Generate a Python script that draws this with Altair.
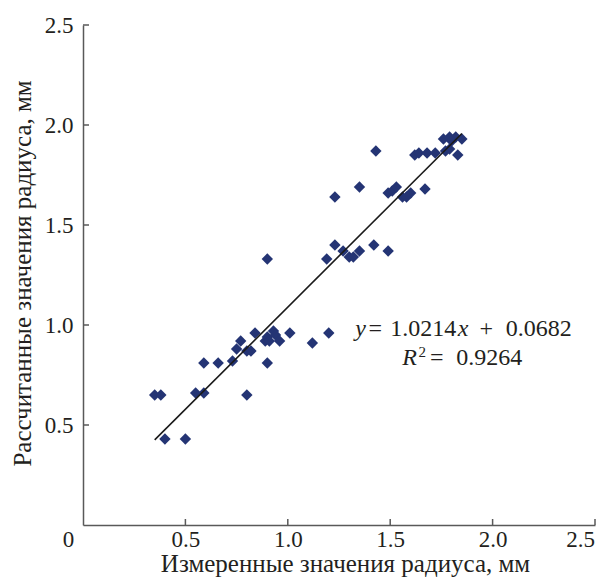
import altair as alt
import pandas as pd

x_meas = [0.35, 0.38, 0.40, 0.50, 0.55, 0.59, 0.59, 0.66, 0.73, 0.75,
          0.77, 0.80, 0.80, 0.82, 0.84, 0.89, 0.90, 0.90, 0.91, 0.93,
          0.94, 0.96, 1.01, 1.12, 1.20, 0.90,
          1.19, 1.23, 1.27, 1.30, 1.32, 1.35, 1.42, 1.49,
          1.23, 1.35, 1.43, 1.49, 1.51, 1.53, 1.56, 1.58, 1.60, 1.67,
          1.62, 1.64, 1.68, 1.72, 1.77, 1.79, 1.83, 1.76, 1.79, 1.82, 1.85, 1.80]
# Calculated values (mm)
y_calc = [0.65, 0.65, 0.43, 0.43, 0.66, 0.66, 0.81, 0.81, 0.82, 0.88,
          0.92, 0.87, 0.65, 0.87, 0.96, 0.92, 0.94, 0.81, 0.92, 0.97,
          0.95, 0.92, 0.96, 0.91, 0.96, 1.33,
          1.33, 1.40, 1.37, 1.34, 1.34, 1.37, 1.40, 1.37,
          1.64, 1.69, 1.87, 1.66, 1.67, 1.69, 1.64, 1.64, 1.66, 1.68,
          1.85, 1.86, 1.86, 1.86, 1.87, 1.88, 1.85, 1.93, 1.94, 1.94, 1.93, 1.92]

slope = 1.0214
intercept = 0.0682

x_ticks = [0.5, 1.0, 1.5, 2.0, 2.5]
y_ticks = [0.5, 1.0, 1.5, 2.0, 2.5]
x_label_values = [0, 0.5, 1.0, 1.5, 2.0, 2.5]

FONT = "Liberation Serif"
POINT_COLOR = "#243474"
TEXT_COLOR = "#231f20"

pts = pd.DataFrame({"x": x_meas, "y": y_calc})
xmin, xmax = min(x_meas), max(x_meas)
fit = pd.DataFrame({"x": [xmin, xmax],
                    "y": [slope * xmin + intercept, slope * xmax + intercept]})
xt = pd.DataFrame({"x": x_ticks})
yt = pd.DataFrame({"y": y_ticks})

xscale = alt.Scale(domain=[0, 2.5], nice=False, zero=False)
yscale = alt.Scale(domain=[0, 2.5], nice=False, zero=False)

xaxis = alt.Axis(
    title="Измеренные значения радиуса, мм",
    values=x_label_values,
    labelExpr="datum.value == 0 ? '0' : format(datum.value, '.1f')",
    labelOffset={"condition": {"test": "datum.value === 0 || datum.value === 2.5",
                               "value": -15}, "value": 0},
    ticks=False, grid=False, labelPadding=3, labelFlush=False,
    titleX=262, titleY=46, titleBaseline="alphabetic", titleAlign="center",
)
yaxis = alt.Axis(
    title="Рассчитанные значения радиуса, мм",
    values=y_ticks,
    labelExpr="format(datum.value, '.1f')",
    ticks=False, grid=False, labelPadding=10, labelFlush=False,
    titleX=-53, titleY=248, titleAngle=270, titleBaseline="alphabetic", titleAlign="center",
)

points = alt.Chart(pts).mark_point(
    shape="diamond", filled=True, size=130, color=POINT_COLOR, opacity=1
).encode(
    x=alt.X("x:Q", scale=xscale, axis=xaxis),
    y=alt.Y("y:Q", scale=yscale, axis=yaxis),
)

line = alt.Chart(fit).mark_line(color="#1a1a1a", strokeWidth=1.6).encode(
    x=alt.X("x:Q", scale=xscale),
    y=alt.Y("y:Q", scale=yscale),
)

xtick_marks = alt.Chart(xt).mark_rule(color="#595959", strokeWidth=1.5).encode(
    x=alt.X("x:Q", scale=xscale),
    y=alt.value(500), y2=alt.value(494),
)
ytick_marks = alt.Chart(yt).mark_rule(color="#595959", strokeWidth=1.5).encode(
    y=alt.Y("y:Q", scale=yscale),
    x=alt.value(0), x2=alt.value(6),
)

def tok(text, x, y, size=24, italic=False):
    return alt.Chart(pd.DataFrame({"t": [text]})).mark_text(
        font=FONT, fontSize=size, fontStyle="italic" if italic else "normal",
        align="center", baseline="alphabetic", color=TEXT_COLOR,
    ).encode(text="t:N", x=alt.value(x), y=alt.value(y))

ann = [
    tok("y", 277.7, 311, italic=True),
    tok("=", 292.2, 311),
    tok("1.0214", 340.2, 311),
    tok("x", 380.2, 311, italic=True),
    tok("+", 403.2, 311),
    tok("0.0682", 455.7, 311),
    tok("R", 326.7, 340, italic=True),
    tok("2", 339.2, 332, size=15),
    tok("=", 353.7, 340),
    tok("0.9264", 406.2, 340),
]

chart = alt.layer(points, line, xtick_marks, ytick_marks, *ann).properties(
    width=512, height=500,
    autosize=alt.AutoSizeParams(type="none"),
    padding={"left": 75, "top": 17, "right": 11, "bottom": 52},
).configure_view(stroke=None).configure_axis(
    domainColor="#595959", domainWidth=1.5,
    labelFont=FONT, labelFontSize=23, labelColor=TEXT_COLOR,
    titleFont=FONT, titleFontSize=25, titleFontWeight="normal", titleColor=TEXT_COLOR,
)

chart.save("out.html", embed_options={"renderer": "svg", "actions": False})
